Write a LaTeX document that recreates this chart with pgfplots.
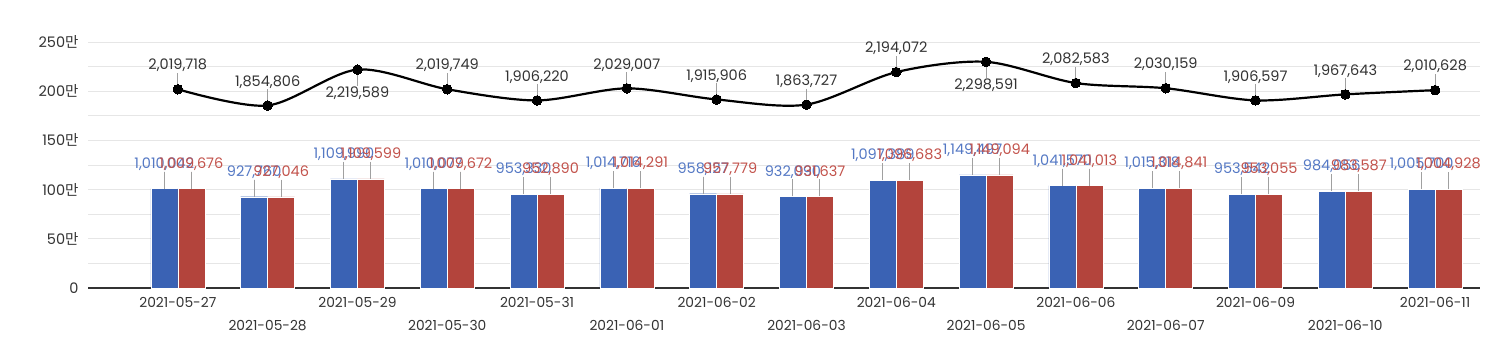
\documentclass[border=0pt]{standalone}
\usepackage{fontspec}
\setmainfont{Poppins}
\newfontfamily\kr{Noto Sans CJK KR}
\usepackage{pgfplots}
\pgfplotsset{compat=1.18}
\usepackage{pgfplotstable}
\definecolor{barblue}{HTML}{3A62B4}
\definecolor{barred}{HTML}{B3443C}
\definecolor{lblblue}{HTML}{5478C4}
\definecolor{lblred}{HTML}{C2524B}
\definecolor{txt}{HTML}{333333}
\definecolor{gridc}{HTML}{E6E6E6}
\definecolor{lead}{HTML}{A0A0A0}
\tikzset{lbl/.style={inner sep=1pt, font=\fontsize{14.5}{17}\selectfont}}
\pgfplotstableread{
x blue red total bl rl tl
0 1010042 1009676 2019718 1,010,042 1,009,676 2,019,718
1 927760 927046 1854806 927,760 927,046 1,854,806
2 1109990 1109599 2219589 1,109,990 1,109,599 2,219,589
3 1010077 1009672 2019749 1,010,077 1,009,672 2,019,749
4 953330 952890 1906220 953,330 952,890 1,906,220
5 1014716 1014291 2029007 1,014,716 1,014,291 2,029,007
6 958127 957779 1915906 958,127 957,779 1,915,906
7 932090 931637 1863727 932,090 931,637 1,863,727
8 1097389 1096683 2194072 1,097,389 1,096,683 2,194,072
9 1149497 1149094 2298591 1,149,497 1,149,094 2,298,591
10 1041570 1041013 2082583 1,041,570 1,041,013 2,082,583
11 1015318 1014841 2030159 1,015,318 1,014,841 2,030,159
12 953542 953055 1906597 953,542 953,055 1,906,597
13 984056 983587 1967643 984,056 983,587 1,967,643
14 1005700 1004928 2010628 1,005,700 1,004,928 2,010,628
}\datatable
\newcommand{\low}[1]{\raisebox{-23pt}[\height][\depth]{#1}}
\begin{document}
\begin{tikzpicture}
\begin{axis}[
  name=ax,
  width=1392pt, height=246pt, scale only axis,
  xmin=-1, xmax=14.5, ymin=0, ymax=2500000,
  axis x line*=bottom, axis y line*=left,
  y axis line style={draw=none},
  x axis line style={draw=txt, line width=1.3pt},
  major tick length=0pt, minor tick length=0pt,
  scaled y ticks=false,
  ytick={0,500000,1000000,1500000,2000000,2500000},
  yticklabels={0,50{\kr 만},100{\kr 만},150{\kr 만},200{\kr 만},250{\kr 만}},
  minor ytick={250000,750000,1250000,1750000,2250000},
  ymajorgrids, yminorgrids,
  major grid style={draw=gridc, line width=0.9pt},
  minor grid style={draw=gridc, line width=0.9pt},
  xtick={0,...,14},
  xticklabels={2021-05-27,\low{2021-05-28},2021-05-29,\low{2021-05-30},2021-05-31,\low{2021-06-01},2021-06-02,\low{2021-06-03},2021-06-04,\low{2021-06-05},2021-06-06,\low{2021-06-07},2021-06-09,\low{2021-06-10},2021-06-11},
  xticklabel style={font=\fontsize{13.8}{16}\selectfont, text=txt, anchor=north, yshift=-6pt},
  yticklabel style={font=\fontsize{14.5}{16}\selectfont, text=txt, anchor=east, xshift=-6pt},
  clip=false,
]
\addplot[ybar, bar width=27pt, bar shift=-13.5pt, fill=barblue, draw=white, line width=0.4pt,
  point meta=explicit symbolic,
  nodes near coords={\pgfplotspointmeta},
  every node near coord/.style={lbl, anchor=south, xshift=-13.5pt, yshift=17pt, text=lblblue,
    append after command={(\tikzlastnode.south) edge[draw=lead, line width=1pt] ([yshift=-17pt]\tikzlastnode.south)}},
] table[x=x, y=blue, meta=bl] {\datatable};
\addplot[ybar, bar width=27pt, bar shift=13.5pt, fill=barred, draw=white, line width=0.4pt,
  point meta=explicit symbolic,
  nodes near coords={\pgfplotspointmeta},
  every node near coord/.style={lbl, anchor=south, xshift=13.5pt, yshift=17pt, text=lblred,
    append after command={(\tikzlastnode.south) edge[draw=lead, line width=1pt] ([yshift=-17pt]\tikzlastnode.south)}},
] table[x=x, y=red, meta=rl] {\datatable};
\addplot[smooth, black, line width=2.2pt, mark=*, mark size=4.8pt,
  mark options={fill=black, line width=0pt}] table[x=x, y=total] {\datatable};
% labels above the line
\addplot[draw=none, mark=none,
  skip coords between index={2}{3}, skip coords between index={9}{10},
  point meta=explicit symbolic,
  nodes near coords={\pgfplotspointmeta},
  every node near coord/.style={lbl, anchor=south, yshift=16pt, text=txt,
    append after command={(\tikzlastnode.south) edge[draw=lead, line width=1pt] ([yshift=-11pt]\tikzlastnode.south)}},
] table[x=x, y=total, meta=tl] {\datatable};
% labels below the line
\addplot[draw=none, mark=none,
  skip coords between index={0}{2}, skip coords between index={3}{9}, skip coords between index={10}{15},
  point meta=explicit symbolic,
  nodes near coords={\pgfplotspointmeta},
  every node near coord/.style={lbl, anchor=north, yshift=-16pt, text=txt,
    append after command={(\tikzlastnode.north) edge[draw=lead, line width=1pt] ([yshift=11pt]\tikzlastnode.north)}},
] table[x=x, y=total, meta=tl] {\datatable};
\end{axis}
\pgfresetboundingbox
\useasboundingbox ([xshift=-88pt,yshift=-74pt]ax.south west) rectangle ([xshift=10pt,yshift=42pt]ax.north east);
\end{tikzpicture}
\end{document}
